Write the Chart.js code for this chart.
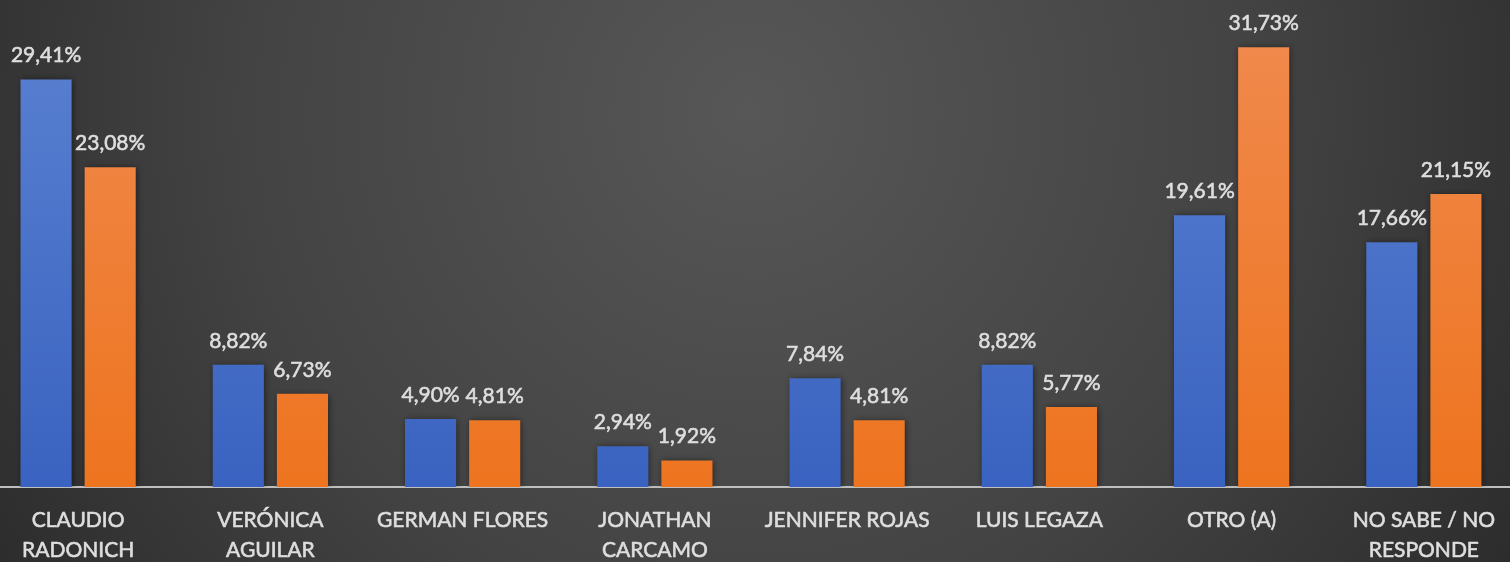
<!DOCTYPE html>
<html>
<head>
<meta charset="utf-8">
<script src="https://cdn.jsdelivr.net/npm/chart.js@4"></script>
<style>
	html, body { margin: 0; padding: 0; overflow: hidden; background: #3a3a3a; }
	#wrap { position: absolute; left: -18px; top: 0; width: 1538px; height: 562px; }
</style>
</head>
<body>
<div id="wrap"><canvas id="chart"></canvas></div>
<script>
const categories = [
	['CLAUDIO', 'RADONICH'],
	['VERÓNICA', 'AGUILAR'],
	'GERMAN FLORES',
	['JONATHAN', 'CARCAMO'],
	'JENNIFER ROJAS',
	'LUIS LEGAZA',
	'OTRO (A)',
	['NO SABE / NO', 'RESPONDE'],
];
const seriesBlue = [29.41, 8.82, 4.90, 2.94, 7.84, 8.82, 19.61, 17.66];
const seriesOrange = [23.08, 6.73, 4.81, 1.92, 4.81, 5.77, 31.73, 21.15];

const FONT = 'Lato, "Open Sans", sans-serif';
const TEXT = '#dedede';

const barGradient = (top, bottom) => context => {
	const chart = context.chart;
	const area = chart.chartArea;
	if (!area) return bottom;
	const g = chart.ctx.createLinearGradient(0, area.top, 0, area.bottom);
	g.addColorStop(0, top);
	g.addColorStop(1, bottom);
	return g;
};

// dark radial backdrop like the original slide
const background = {
	id: 'background',
	beforeDraw: chart => {
		const ctx = chart.ctx;
		const w = chart.width, h = chart.height;
		ctx.save();
		const g = ctx.createRadialGradient(w * 0.5, h * 0.2, 0, w * 0.5, h * 0.2, w * 0.6);
		g.addColorStop(0, '#575757');
		g.addColorStop(0.55, '#434343');
		g.addColorStop(1, '#2a2a2a');
		ctx.fillStyle = g;
		ctx.fillRect(0, 0, w, h);
		ctx.restore();
	}
};

// soft shadow round the bars
const barShadow = {
	id: 'barShadow',
	beforeDatasetsDraw: chart => {
		const ctx = chart.ctx;
		ctx.save();
		ctx.shadowColor = 'rgba(0,0,0,0.55)';
		ctx.shadowBlur = 7;
		ctx.shadowOffsetX = 1;
		ctx.shadowOffsetY = 1;
	},
	afterDatasetsDraw: chart => {
		chart.ctx.restore();
	}
};

// value labels above each bar
const valueLabels = {
	id: 'valueLabels',
	afterDatasetsDraw: chart => {
		const ctx = chart.ctx;
		ctx.save();
		ctx.font = '21px ' + FONT;
		ctx.fillStyle = TEXT;
		ctx.strokeStyle = TEXT;
		ctx.lineWidth = 0.6;
		ctx.textAlign = 'center';
		ctx.textBaseline = 'middle';
		chart.data.datasets.forEach((ds, i) => {
			chart.getDatasetMeta(i).data.forEach((bar, j) => {
				const txt = ds.data[j].toFixed(2).replace('.', ',') + '%';
				ctx.fillText(txt, bar.x, bar.y - 24);
				ctx.strokeText(txt, bar.x, bar.y - 24);
			});
		});
		ctx.restore();
	}
};

new Chart(document.getElementById('chart'), {
	type: 'bar',
	data: {
		labels: categories,
		datasets: [
			{
				label: 'Serie 1',
				data: seriesBlue,
				backgroundColor: barGradient('#5b82d1', '#3a63c1'),
			},
			{
				label: 'Serie 2',
				data: seriesOrange,
				backgroundColor: barGradient('#f08b50', '#ee741f'),
			},
		]
	},
	plugins: [background, barShadow, valueLabels],
	options: {
		responsive: true,
		maintainAspectRatio: false,
		animation: false,
		categoryPercentage: 0.667,
		barPercentage: 0.797,
		layout: {padding: {top: 2, left: 0, right: 0, bottom: 0}},
		plugins: {
			legend: {display: false},
			tooltip: {enabled: false},
		},
		scales: {
			x: {
				grid: {display: false, drawTicks: false},
				border: {display: true, color: '#bfbfbf', width: 2},
				ticks: {
					color: TEXT,
					textStrokeColor: TEXT,
					textStrokeWidth: 0.6,
					font: {family: FONT, size: 21, lineHeight: 1.43},
					padding: 18,
					maxRotation: 0,
					autoSkip: false,
				},
				afterFit: s => { s.height = 75; },
			},
			y: {
				display: false,
				min: 0,
				max: 35,
			}
		}
	},
});
</script>
</body>
</html>
